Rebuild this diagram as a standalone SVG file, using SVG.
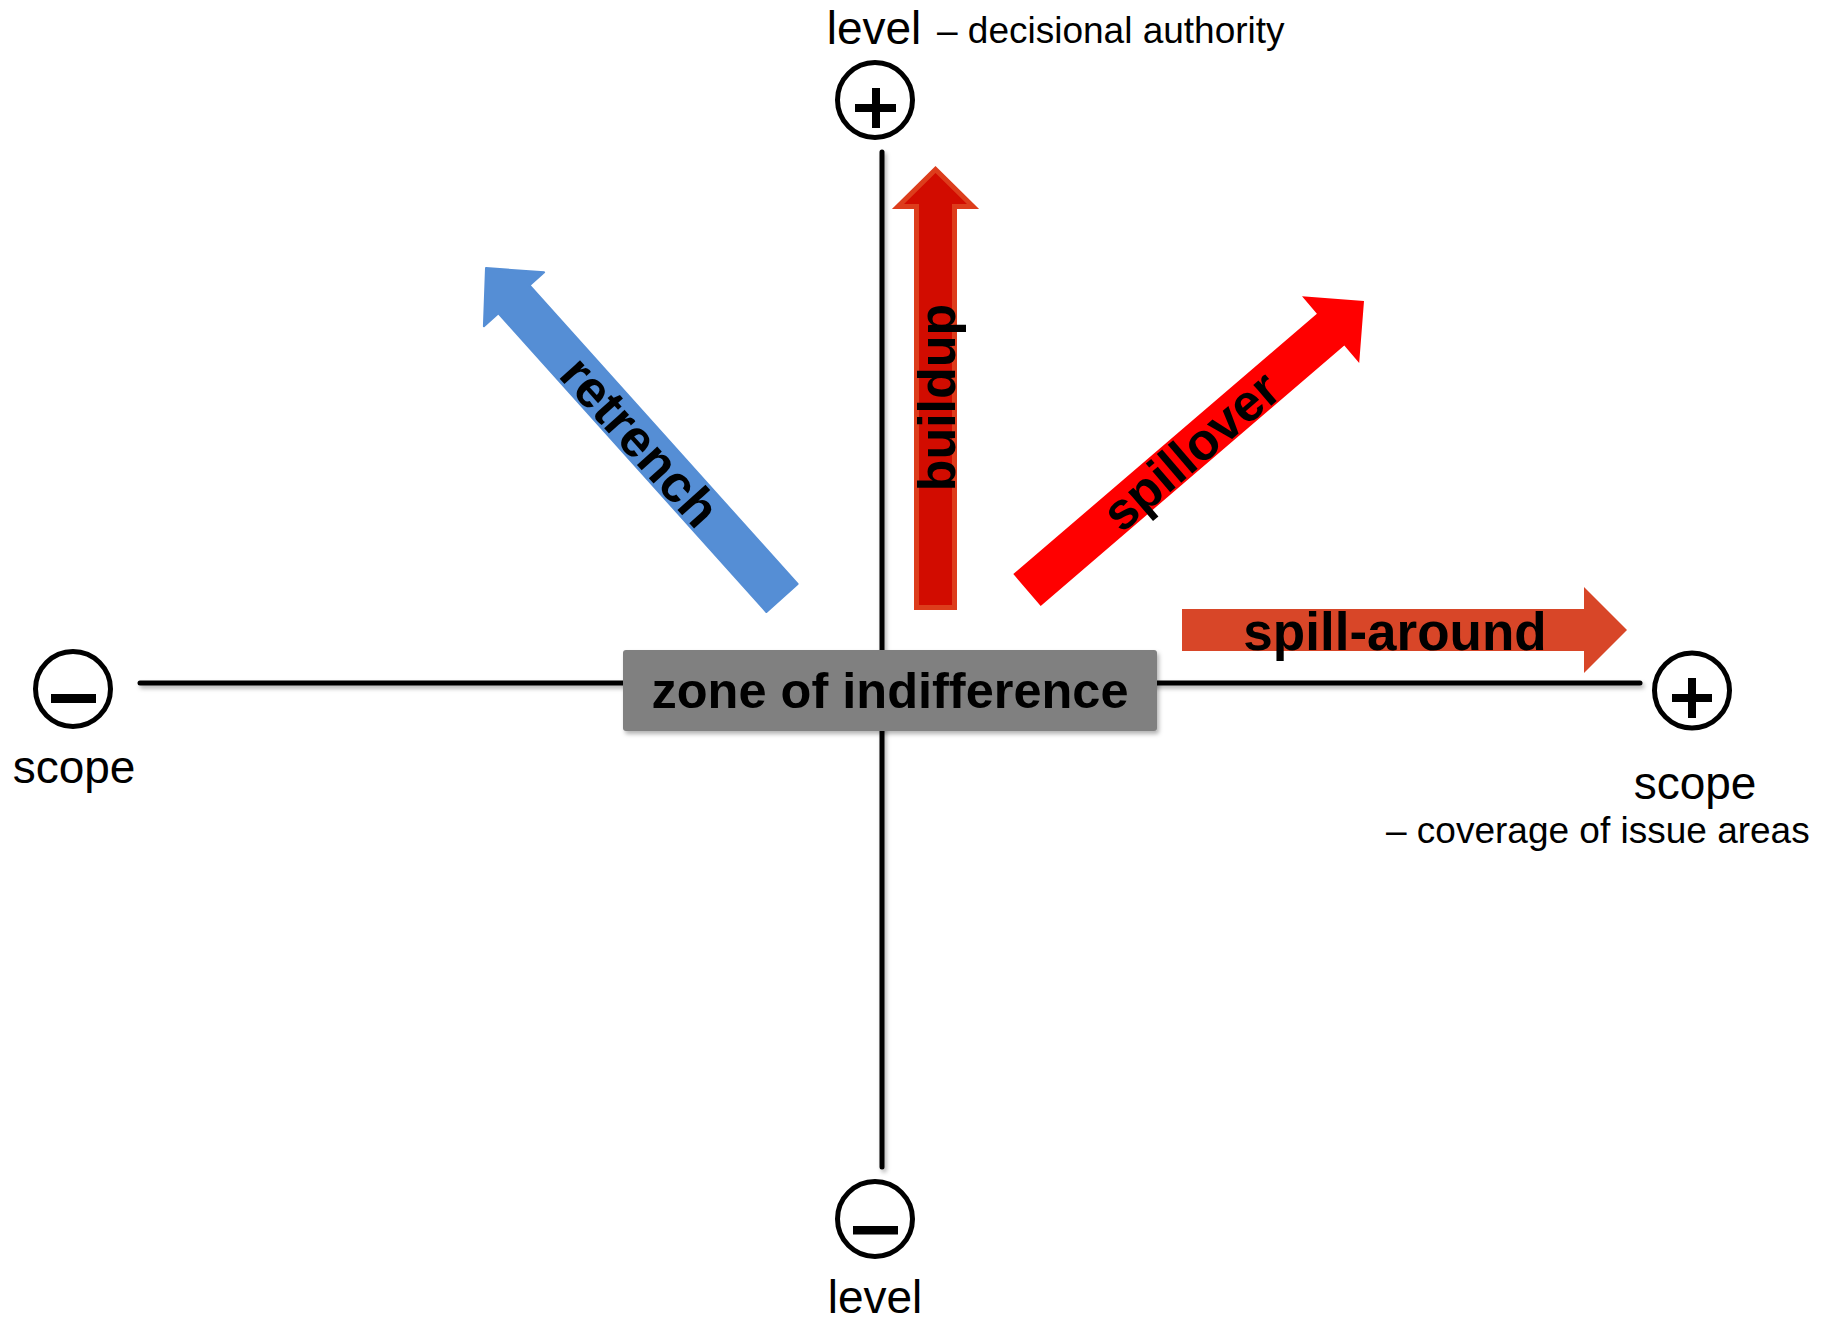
<svg xmlns="http://www.w3.org/2000/svg" width="1830" height="1320" viewBox="0 0 1830 1320">
<defs>
<filter id="sh" x="-10%" y="-10%" width="120%" height="130%">
<feDropShadow dx="2" dy="3" stdDeviation="2" flood-color="#000" flood-opacity="0.3"/>
</filter>
<style>
.ax{stroke:#000;stroke-width:5;stroke-linecap:round;fill:none}
.circ{fill:#fff;stroke:#000;stroke-width:5}
.sym{fill:#000}
.lbl{font-family:"Liberation Sans",Arial,sans-serif;fill:#000}
.big{font-size:46px}
.small{font-size:37px}
.bold{font-family:"Liberation Sans",Arial,sans-serif;font-weight:bold;font-size:52px;fill:#000}
</style>
</defs>
<rect width="1830" height="1320" fill="#fff"/>
<g id="axes" filter="url(#sh)">
<line class="ax" x1="882" y1="152" x2="882" y2="1167"/>
<line class="ax" x1="140" y1="683" x2="1640" y2="683"/>
</g>
<g id="level-plus">
<circle class="circ" cx="875" cy="100" r="37.5"/>
<rect class="sym" x="855" y="104" width="41" height="8"/>
<rect class="sym" x="872" y="88" width="8" height="40"/>
<text class="lbl big" x="874" y="44" text-anchor="middle">level</text>
<text class="lbl small" x="937" y="43">– decisional authority</text>
</g>
<g id="level-minus">
<circle class="circ" cx="875" cy="1219" r="37.5"/>
<rect class="sym" x="853" y="1226" width="45" height="8.5"/>
<text class="lbl big" x="875" y="1313" text-anchor="middle">level</text>
</g>
<g id="scope-minus">
<circle class="circ" cx="73" cy="689" r="37.5"/>
<rect class="sym" x="51" y="694" width="45" height="9"/>
<text class="lbl big" x="74" y="783" text-anchor="middle">scope</text>
</g>
<g id="scope-plus">
<circle class="circ" cx="1692" cy="690.5" r="37.5"/>
<rect class="sym" x="1672" y="694" width="40" height="8"/>
<rect class="sym" x="1688" y="678" width="8" height="40"/>
<text class="lbl big" x="1695" y="799" text-anchor="middle">scope</text>
<text class="lbl small" x="1386" y="843">– coverage of issue areas</text>
</g>
<g id="zone">
<rect x="623" y="650" width="534" height="81" rx="3" fill="#808080" filter="url(#sh)"/>
<text class="bold" x="890" y="708" text-anchor="middle" style="font-size:50.5px">zone of indifference</text>
</g>
<g id="connectors">
<g id="retrench">
<polygon points="797.6,584 529.6,285.3 544.1,272.3 486,268 483.9,326.3 498.4,313.3 766.4,612" fill="#558ED5" stroke="#558ED5" stroke-width="2" stroke-linejoin="round"/>
<text class="bold" transform="translate(626.8,453.5) rotate(48.1)" text-anchor="middle">retrench</text>
</g>
<g id="buildup">
<polygon points="916.5,607.5 916.5,206.5 898,206.5 935.5,169.5 973,206.5 954.5,206.5 954.5,607.5" fill="#D20C00" stroke="#DD3D1C" stroke-width="5"/>
<text class="bold" transform="translate(955,397.5) rotate(-90)" text-anchor="middle">buildup</text>
</g>
<g id="spillover">
<polygon points="1013.3,574.1 1316.9,313.7 1302,296.2 1364,301 1359.2,363 1344.3,345.5 1040.7,605.9" fill="#FF0000"/>
<text class="bold" transform="translate(1202.6,464.4) rotate(-40.6)" text-anchor="middle">spillover</text>
</g>
<g id="spill-around">
<polygon points="1182,609 1584,609 1584,587 1627,630 1584,673 1584,651 1182,651" fill="#D84628"/>
<text class="bold" x="1395" y="650" text-anchor="middle" style="font-size:53px">spill-around</text>
</g>
</g>
</svg>
